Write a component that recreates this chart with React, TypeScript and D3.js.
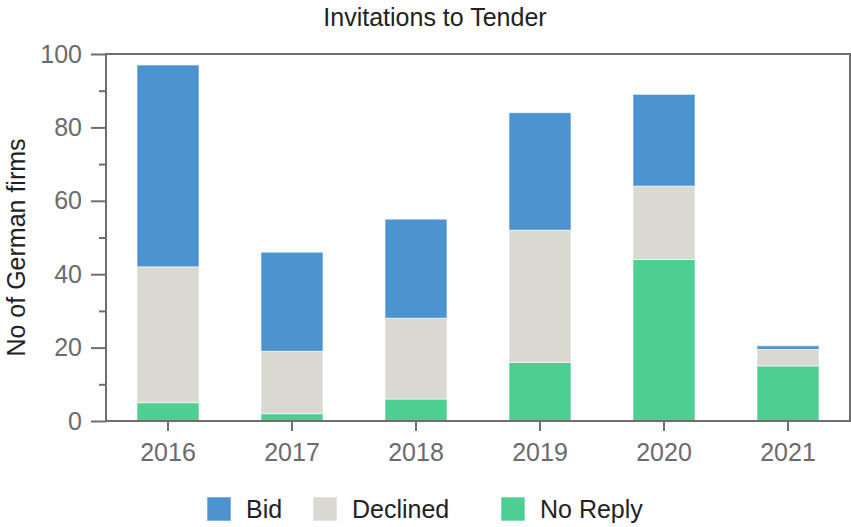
import React, { useEffect, useRef } from 'react';
import * as d3 from 'd3';

// values
const years = ['2016', '2017', '2018', '2019', '2020', '2021'];
const noReply = [5, 2, 6, 16, 44, 15];
const declined = [37, 17, 22, 36, 20, 4.5];
const bid = [55, 27, 27, 32, 25, 1];
const yTicks = [0, 20, 40, 60, 80, 100];

const seriesNames = ['No Reply', 'Declined', 'Bid'];
const seriesColors = ['#4dcf94', '#d9d9d1', '#4c93cf'];
const legendOrder = ['Bid', 'Declined', 'No Reply'];
const legendX = [207, 313, 501];

const FONT = '"Liberation Sans", Arial, sans-serif';

function App() {
  const ref = useRef<SVGSVGElement>(null);

  useEffect(() => {
    const width = 851;
    const height = 527;
    const margin = { top: 54, right: 1, bottom: 106, left: 106 };

    const svg = d3.select(ref.current);
    svg.selectAll('*').remove();

    const rows = years.map((y, i) => ({
      year: y,
      'No Reply': noReply[i],
      Declined: declined[i],
      Bid: bid[i],
    }));

    const x = d3.scaleBand()
      .domain(years)
      .range([margin.left, width - margin.right])
      .paddingInner(0.5)
      .paddingOuter(0.25);

    const y = d3.scaleLinear()
      .domain([0, 100])
      .range([height - margin.bottom, margin.top]);

    const color = d3.scaleOrdinal<string, string>().domain(seriesNames).range(seriesColors);

    const stacked = d3.stack<any>().keys(seriesNames)(rows);

    // bars
    svg.append('g')
      .selectAll('g')
      .data(stacked)
      .join('g')
      .attr('fill', (d) => color(d.key))
      .selectAll('rect')
      .data((d) => d)
      .join('rect')
      .attr('x', (d: any) => x(d.data.year)!)
      .attr('y', (d) => y(d[1]))
      .attr('width', x.bandwidth())
      .attr('height', (d) => y(d[0]) - y(d[1]))
      .attr('stroke', 'rgba(255,255,255,0.6)')
      .attr('stroke-width', 1);

    // frame
    svg.append('rect')
      .attr('x', margin.left)
      .attr('y', margin.top)
      .attr('width', width - margin.right - margin.left)
      .attr('height', height - margin.bottom - margin.top)
      .attr('fill', 'none')
      .attr('stroke', '#6e6e6e')
      .attr('stroke-width', 2);

    // y axis with minor ticks
    const yAxis = svg.append('g').attr('transform', `translate(${margin.left},0)`);
    yAxis.append('g')
      .call(d3.axisLeft(y).tickValues(d3.range(10, 100, 20)).tickSize(7).tickFormat(() => ''))
      .call((g) => g.select('.domain').remove());
    yAxis.append('g')
      .call(d3.axisLeft(y).tickValues(yTicks).tickSize(15).tickPadding(9))
      .call((g) => g.select('.domain').remove());
    yAxis.selectAll('line').attr('stroke', '#6e6e6e').attr('stroke-width', 2);
    yAxis.selectAll('text')
      .attr('fill', '#6b6b6b')
      .style('font-family', FONT)
      .style('font-size', '25px');

    // x axis
    const xAxis = svg.append('g')
      .attr('transform', `translate(0,${height - margin.bottom})`)
      .call(d3.axisBottom(x).tickSize(10).tickPadding(12))
      .call((g) => g.select('.domain').remove());
    xAxis.selectAll('line').attr('stroke', '#6e6e6e').attr('stroke-width', 2);
    xAxis.selectAll('text')
      .attr('fill', '#6b6b6b')
      .style('font-family', FONT)
      .style('font-size', '25px');

    // title
    svg.append('text')
      .attr('x', 435)
      .attr('y', 26)
      .attr('text-anchor', 'middle')
      .attr('fill', '#222')
      .style('font-family', FONT)
      .style('font-size', '25px')
      .text('Invitations to Tender');

    // y label
    svg.append('text')
      .attr('transform', `translate(25,${(margin.top + height - margin.bottom) / 2 + 10}) rotate(-90)`)
      .attr('text-anchor', 'middle')
      .attr('fill', '#222')
      .style('font-family', FONT)
      .style('font-size', '25px')
      .text('No of German firms');

    // legend
    const legend = svg.append('g')
      .selectAll('g')
      .data(legendOrder)
      .join('g')
      .attr('transform', (_d, i) => `translate(${legendX[i]},497)`);
    legend.append('rect')
      .attr('width', 24)
      .attr('height', 24)
      .attr('fill', (d) => color(d))
      .attr('stroke', 'rgba(255,255,255,0.6)');
    legend.append('text')
      .attr('x', 39)
      .attr('y', 21)
      .attr('fill', '#222')
      .style('font-family', FONT)
      .style('font-size', '25px')
      .text((d) => d);
  }, []);

  return (
    <svg
      ref={ref}
      width={851}
      height={527}
      style={{ position: 'absolute', left: 0, top: 0, background: '#fff' }}
    />
  );
}

export default App;
